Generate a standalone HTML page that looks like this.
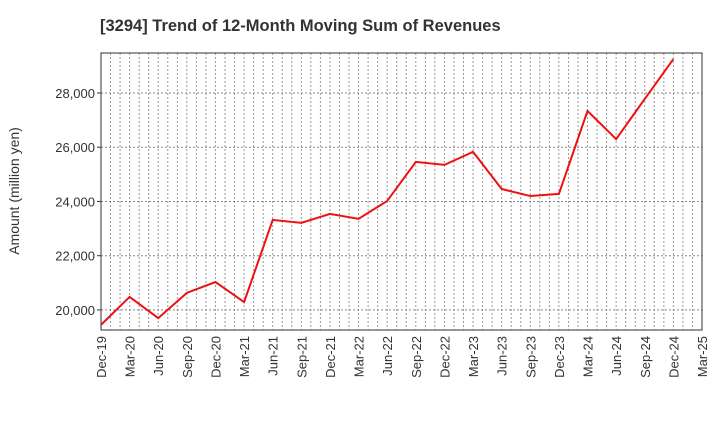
<!DOCTYPE html>
<html><head><meta charset="utf-8"><style>
body{margin:0;background:#fff;}
svg text{font-family:"Liberation Sans",sans-serif;}
</style></head><body>
<svg id="chart" width="720" height="440" xmlns="http://www.w3.org/2000/svg">
<text x="100" y="31" font-size="16.5" font-weight="bold" fill="#333">[3294]  Trend of 12-Month Moving Sum of Revenues</text>
<text transform="translate(19,191) rotate(-90)" text-anchor="middle" font-size="14" fill="#333">Amount (million yen)</text>
<g id="grid"></g><g id="axes"></g><g id="series"></g>
</svg>
<script>
const categories=["Dec-19","Mar-20","Jun-20","Sep-20","Dec-20","Mar-21","Jun-21","Sep-21","Dec-21","Mar-22","Jun-22","Sep-22","Dec-22","Mar-23","Jun-23","Sep-23","Dec-23","Mar-24","Jun-24","Sep-24","Dec-24","Mar-25"];
const revenues=[19450,20480,19700,20630,21030,20290,23320,23210,23540,23360,24020,25460,25350,25830,24460,24200,24280,27340,26300,27780,29250];
const yTicks=[20000,22000,24000,26000,28000];
const yTickLabels=["20,000","22,000","24,000","26,000","28,000"];
const L=101,R=702,T=53,B=330,yMin=19260,yMax=29475;
const NS="http://www.w3.org/2000/svg";
const x=i=>L+(R-L)*i/(categories.length-1);
const y=v=>B-(v-yMin)/(yMax-yMin)*(B-T);
function mk(tag,attrs,parent){const e=document.createElementNS(NS,tag);for(const k in attrs)e.setAttribute(k,attrs[k]);parent.appendChild(e);return e;}
const grid=document.getElementById('grid'),axes=document.getElementById('axes'),series=document.getElementById('series');
const months=(categories.length-1)*3;
for(let m=1;m<months;m++){const gx=L+(R-L)*m/months;
 const ln=mk('line',{x1:gx,x2:gx,y1:T,y2:B,stroke:'#999','stroke-dasharray':'2,2','stroke-width':1},grid);
 
 }
yTicks.forEach((v,i)=>{
 const ln=mk('line',{x1:L,x2:R,y1:y(v),y2:y(v),stroke:'#888','stroke-dasharray':'2,2','stroke-width':1},grid);
 
 
 const t=mk('text',{x:L-6,y:y(v)+5,'text-anchor':'end','font-size':'13',fill:'#333'},axes);
 t.textContent=yTickLabels[i];
 
 
 const tk=mk('line',{x1:L-4,x2:L,y1:y(v),y2:y(v),stroke:'#333'},axes);
 
 
});
categories.forEach((c,i)=>{
 const t=mk('text',{transform:`translate(${x(i)+5},${B+6}) rotate(-90)`,'text-anchor':'end','font-size':'13',fill:'#333'},axes);
 t.textContent=c;
 
 
});
const frame=mk('rect',{x:L,y:T,width:R-L,height:B-T,fill:'none',stroke:'#333','stroke-width':1},axes);


const line=mk('polyline',{points:revenues.map((v,i)=>x(i)+','+y(v)).join(' '),fill:'none',stroke:'#ee1111','stroke-width':2},series);


</script>
</body></html>
